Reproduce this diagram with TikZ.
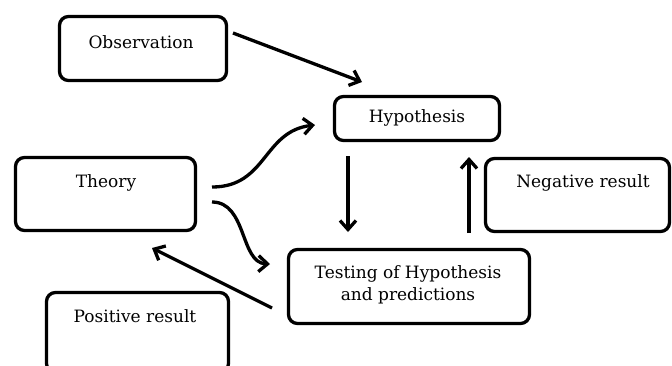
\documentclass[tikz,border=0pt]{standalone}
\usepackage{fontspec}
\setmainfont{DejaVu Serif}
\usetikzlibrary{arrows.meta}
\begin{document}
\begin{tikzpicture}[x=1pt,y=-1pt,
  box/.style={draw=black, line width=3.3pt, rounded corners=9pt, outer sep=0pt, inner sep=0pt, fill=white},
  txt/.style={font=\fontsize{17}{22}\selectfont, inner sep=0pt, align=center},
  arr/.style={line width=3.3pt, -{Straight Barb[length=9pt,width=16pt,line width=3.3pt]}}]
\useasboundingbox (0,0) rectangle (672,365);
\clip (0,0) rectangle (672,365);
\fill[white] (0,0) rectangle (672,365);
% boxes
\node[box, minimum width=167pt, minimum height=64pt] (obs) at (143,48.5) {};
\node[box, minimum width=165pt, minimum height=44pt] (hyp) at (417,118.5) {};
\node[box, minimum width=180pt, minimum height=73pt] (theory) at (105.5,194) {};
\node[box, minimum width=184pt, minimum height=73pt] (neg) at (577.5,195) {};
\node[box, minimum width=241pt, minimum height=74pt] (test) at (409,286.5) {};
\node[box, minimum width=182pt, minimum height=80pt] (pos) at (137.5,332.5) {};
% texts
\node[txt] (obsT) at (141,42) {Observation};
\node[txt] (hypT) at (417,118) {Hypothesis};
\node[txt] (theoryT) at (106,183) {Theory};
\node[txt] (negT) at (583,183) {Negative result};
\node[txt] (testT) at (408,284.5) {Testing of Hypothesis\\and predictions};
\node[txt] (posT) at (135,316) {Positive result};
% connectors
\draw[arr] ([shift={(6.5,-15.5)}]obs.east) -- ([shift={(27.5,-14.5)}]hyp.north west);
\draw[arr] ([shift={(16.5,-7)}]theory.east) .. controls +(55,0) and +(-52,6) .. ([shift={(-19.5,6.5)}]hyp.west);
\draw[arr] ([shift={(16.5,8)}]theory.east) .. controls +(35,0) and +(-30,-1) .. ([shift={(-18.5,-22.5)}]test.west);
\draw[arr] ([shift={(-16.5,21.5)}]test.west) -- ([shift={(46.5,17.5)}]theory.south);
\draw[arr] ([shift={(13.5,15.5)}]hyp.south west) -- ([shift={(59.5,-17.5)}]test.north west);
\draw[arr] ([shift={(-60.5,-16.5)}]test.north east) -- ([shift={(-30.5,16.5)}]hyp.south east);
\end{tikzpicture}
\end{document}
